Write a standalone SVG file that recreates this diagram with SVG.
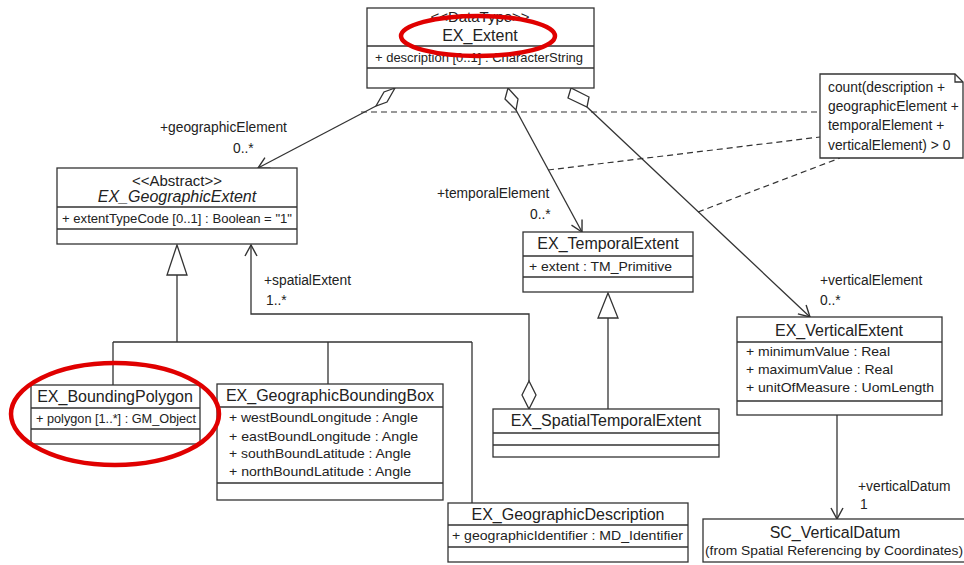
<svg xmlns="http://www.w3.org/2000/svg" width="964" height="565" viewBox="0 0 964 565">
<defs>
<style>
.box{fill:#fff;stroke:#333;stroke-width:1.3}
.ln{fill:none;stroke:#333;stroke-width:1.3}
.dash{fill:none;stroke:#333;stroke-width:1.2;stroke-dasharray:6,4}
.t{font-family:"Liberation Sans",Arial,sans-serif;font-size:16px;fill:#222;text-anchor:middle}
.s{font-family:"Liberation Sans",Arial,sans-serif;font-size:15px;fill:#222;text-anchor:middle}
.a{font-family:"Liberation Sans",Arial,sans-serif;font-size:13px;fill:#222}
.l{font-family:"Liberation Sans",Arial,sans-serif;font-size:13.8px;fill:#222}
.red{fill:none;stroke:#e00000;stroke-width:4.5}
</style>
<marker id="open" markerWidth="14" markerHeight="14" refX="12" refY="7" orient="auto" markerUnits="userSpaceOnUse">
<path d="M1,1 L12,7 L1,13" fill="none" stroke="#333" stroke-width="1.4"/>
</marker>
</defs>

<g id="connectors">
<!-- aggregation EX_Extent -> EX_GeographicExtent -->
<path class="box" d="M395,88 L384,92 L376,106 L387,102 Z"/>
<path class="ln" d="M376,106 L258,168" marker-end="url(#open)"/>
<!-- aggregation EX_Extent -> EX_TemporalExtent -->
<path class="box" d="M508,88 L505,99 L516,110 L518,99 Z"/>
<path class="ln" d="M516,110 L582,232" marker-end="url(#open)"/>
<!-- aggregation EX_Extent -> EX_VerticalExtent -->
<path class="box" d="M571,88 L568,98 L587,107 L589,97 Z"/>
<path class="ln" d="M587,107 L810,317" marker-end="url(#open)"/>
<!-- constraint note dashed lines -->
<path class="dash" d="M361,112 L820,112"/>
<path class="dash" d="M548,170 L820,137"/>
<path class="dash" d="M698,212 L840,158"/>
<!-- generalization to EX_GeographicExtent -->
<path class="box" d="M177,245 L167,275 L187,275 Z"/>
<path class="ln" d="M177,275 V342 M113,342 H472 M113,342 V385 M328,342 V384 M472,342 V503"/>
<!-- generalization to EX_TemporalExtent -->
<path class="box" d="M608,293 L598,318 L618,318 Z"/>
<path class="ln" d="M608,318 V409"/>
<!-- spatialExtent aggregation -->
<path class="box" d="M529,381 L522,395 L529,409 L536,395 Z"/>
<path class="ln" d="M529,381 V314 H251 V245" marker-end="url(#open)"/>
<!-- verticalDatum -->
<path class="ln" d="M837,415 V519" marker-end="url(#open)"/>
<!-- role labels -->
<text class="l" x="160" y="132">+geographicElement</text>
<text class="l" x="233" y="153">0..*</text>
<text class="l" x="437" y="198">+temporalElement</text>
<text class="l" x="530" y="219">0..*</text>
<text class="l" x="820" y="285">+verticalElement</text>
<text class="l" x="820" y="305">0..*</text>
<text class="l" x="264" y="285">+spatialExtent</text>
<text class="l" x="266" y="305">1..*</text>
<text class="l" x="858" y="491">+verticalDatum</text>
<text class="l" x="860" y="509">1</text>
</g>

<g id="note">
<path class="box" d="M820,74 H955 L963,82 V158 H820 Z"/>
<path class="ln" d="M955,74 V82 H963"/>
<text class="l" x="828" y="92">count(description +</text>
<text class="l" x="828" y="111">geographicElement +</text>
<text class="l" x="828" y="130">temporalElement +</text>
<text class="l" x="828" y="150">verticalElement) &gt; 0</text>
</g>

<g id="EX_Extent">
<rect class="box" x="367" y="8" width="227" height="80"/>
<path class="ln" d="M367,46 H594 M367,68 H594"/>
<text class="s" x="480" y="22">&lt;&lt;DataType&gt;&gt;</text>
<text class="t" x="480" y="41">EX_Extent</text>
<text class="a" x="375" y="62" textLength="208" lengthAdjust="spacingAndGlyphs">+ description [0..1] : CharacterString</text>
</g>

<g id="EX_GeographicExtent">
<rect class="box" x="57" y="168" width="240" height="76"/>
<path class="ln" d="M57,207 H297 M57,229 H297"/>
<text class="s" x="177" y="186">&lt;&lt;Abstract&gt;&gt;</text>
<text class="t" x="177" y="202" font-style="italic">EX_GeographicExtent</text>
<text class="a" x="62" y="223" textLength="230" lengthAdjust="spacingAndGlyphs">+ extentTypeCode [0..1] : Boolean = "1"</text>
</g>

<g id="EX_TemporalExtent">
<rect class="box" x="523" y="232" width="170" height="60"/>
<path class="ln" d="M523,256 H693 M523,277 H693"/>
<text class="t" x="608" y="249">EX_TemporalExtent</text>
<text class="a" x="529" y="271" textLength="143" lengthAdjust="spacingAndGlyphs">+ extent : TM_Primitive</text>
</g>

<g id="EX_BoundingPolygon">
<rect class="box" x="31" y="385" width="169" height="59"/>
<path class="ln" d="M31,408 H200 M31,429 H200"/>
<text class="t" x="115" y="402">EX_BoundingPolygon</text>
<text class="a" x="36" y="423" textLength="160" lengthAdjust="spacingAndGlyphs">+ polygon [1..*] : GM_Object</text>
</g>

<g id="EX_GeographicBoundingBox">
<rect class="box" x="217" y="384" width="226" height="116"/>
<path class="ln" d="M217,407 H443 M217,483 H443"/>
<text class="t" x="330" y="401">EX_GeographicBoundingBox</text>
<text class="a" x="229" y="422" textLength="189" lengthAdjust="spacingAndGlyphs">+ westBoundLongitude : Angle</text>
<text class="a" x="229" y="441" textLength="189" lengthAdjust="spacingAndGlyphs">+ eastBoundLongitude : Angle</text>
<text class="a" x="229" y="458" textLength="182" lengthAdjust="spacingAndGlyphs">+ southBoundLatitude : Angle</text>
<text class="a" x="229" y="476" textLength="182" lengthAdjust="spacingAndGlyphs">+ northBoundLatitude : Angle</text>
</g>

<g id="EX_SpatialTemporalExtent">
<rect class="box" x="493" y="409" width="226" height="48"/>
<path class="ln" d="M493,433 H719 M493,445 H719"/>
<text class="t" x="606" y="426">EX_SpatialTemporalExtent</text>
</g>

<g id="EX_VerticalExtent">
<rect class="box" x="737" y="317" width="205" height="98"/>
<path class="ln" d="M737,342 H942 M737,401 H942"/>
<text class="t" x="839" y="336">EX_VerticalExtent</text>
<text class="a" x="746" y="356" textLength="144" lengthAdjust="spacingAndGlyphs">+ minimumValue : Real</text>
<text class="a" x="746" y="374" textLength="147" lengthAdjust="spacingAndGlyphs">+ maximumValue : Real</text>
<text class="a" x="746" y="392" textLength="188" lengthAdjust="spacingAndGlyphs">+ unitOfMeasure : UomLength</text>
</g>

<g id="EX_GeographicDescription">
<rect class="box" x="448" y="503" width="240" height="59"/>
<path class="ln" d="M448,525 H688 M448,547 H688"/>
<text class="t" x="568" y="520">EX_GeographicDescription</text>
<text class="a" x="452" y="540" textLength="231" lengthAdjust="spacingAndGlyphs">+ geographicIdentifier : MD_Identifier</text>
</g>

<g id="SC_VerticalDatum">
<rect class="box" x="703" y="519" width="262" height="43"/>
<text class="t" x="835" y="538">SC_VerticalDatum</text>
<text class="a" x="834" y="555" text-anchor="middle" textLength="258" lengthAdjust="spacingAndGlyphs">(from Spatial Referencing by Coordinates)</text>
</g>

<g id="highlights">
<ellipse class="red" cx="478" cy="36" rx="77" ry="20"/>
<ellipse class="red" cx="115" cy="414" rx="104" ry="51"/>
</g>
</svg>
